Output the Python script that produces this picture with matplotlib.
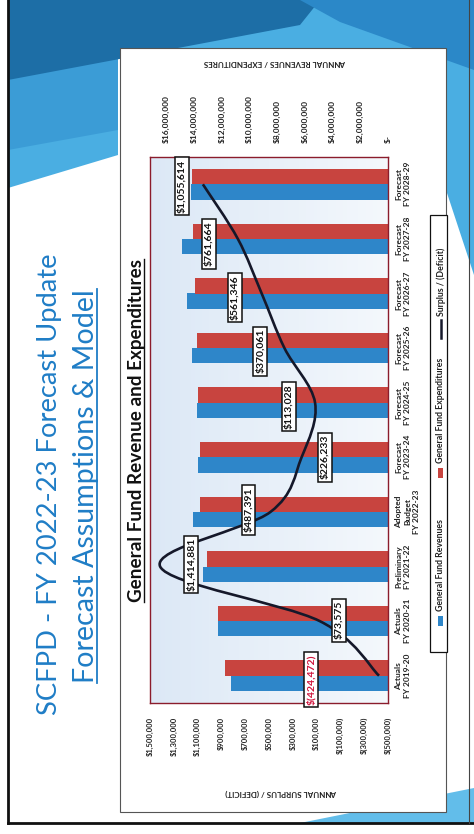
import numpy as np
import matplotlib.pyplot as plt
from matplotlib.patches import Rectangle, Polygon, PathPatch
from matplotlib.path import Path
from matplotlib.lines import Line2D
from matplotlib.colors import LinearSegmentedColormap

plt.rcParams['font.family'] = ['Lato', 'DejaVu Sans']

# data
categories = ["Actuals\nFY 2019-20", "Actuals\nFY 2020-21", "Preliminary\nFY 2021-22",
              "Adopted\nBudget\nFY 2022-23", "Forecast\nFY 2023-24", "Forecast\nFY 2024-25",
              "Forecast\nFY 2025-26", "Forecast\nFY 2026-27", "Forecast\nFY 2027-28",
              "Forecast\nFY 2028-29"]
revenues = [11.35e6, 12.3e6, 13.4e6, 14.1e6, 13.75e6, 13.8e6, 14.2e6, 14.5e6, 14.9e6, 14.25e6]
expenditures = [11.8e6, 12.3e6, 13.1e6, 13.6e6, 13.6e6, 13.7e6, 13.8e6, 13.95e6, 14.1e6, 14.2e6]
surplus = [-424472, 73575, 1414881, 487391, 226233, 113028, 370061, 561346, 761664, 1055614]
rev_ticks = np.arange(0, 16e6 + 1, 2e6)
surplus_ticks = np.arange(-500000, 1500001, 200000)

# label offsets from their points, in pixels (layout only)
label_dx = [-68, 19, 31, -22, 23, -26, -24, -27, -29, -21]
label_dy = [-4, 1, 2, 2, 0, -4, -3, -4, -5, -2]

BLUE = '#2e86c9'
RED = '#c8443f'
TITLE_BLUE = '#1f7dc6'
W, H = 474, 834


def money(v):
    if v == 0:
        return '$-'
    if v < 0:
        return f'$({abs(v):,.0f})'
    return f'${v:,.0f}'


fig = plt.figure(figsize=(W / 100, H / 100), dpi=100)

# slide background in pixel coordinates
bg = fig.add_axes([0, 0, 1, 1])
bg.set_xlim(0, W)
bg.set_ylim(H, 0)
bg.axis('off')

bg.add_patch(Polygon([(8, 0), (474, 0), (474, 275), (446, 190), (446, 48),
                      (118, 48), (118, 155), (8, 188)], closed=True, fc='#4aaee2', ec='none'))
bg.add_patch(Polygon([(8, 80), (118, 48), (118, 130), (8, 150)], closed=True,
                     fc='#3b9cd6', ec='none'))
bg.add_patch(Polygon([(8, 0), (320, 0), (300, 25), (8, 80)], closed=True, fc='#1d6ea6', ec='none'))
bg.add_patch(Polygon([(300, 0), (474, 0), (474, 70), (340, 22)], closed=True,
                     fc='#2b88c8', ec='none'))
bg.add_patch(Polygon([(300, 823), (474, 788), (474, 823)], closed=True, fc='#62bdea', ec='none'))
bg.add_patch(Rectangle((0, 823), W, H - 823, fc='white', ec='none'))
bg.add_patch(Rectangle((0, 0), 8, H, fc='white', ec='none'))
bg.add_line(Line2D([8, 8], [0, 823], color='#111111', lw=2))
bg.add_line(Line2D([8, 474], [823, 823], color='#111111', lw=2))
bg.add_line(Line2D([469, 469], [0, 823], color='#444444', lw=0.8))

# chart frame
bg.add_patch(Rectangle((120, 48), 326, 764, fc='white', ec='#555555', lw=0.8))

# plot-area gradient
grad = LinearSegmentedColormap.from_list('pa', ['#dce8f6', '#f4f8fc'])
bg.imshow(np.linspace(0, 1, 64).reshape(1, -1), cmap=grad, aspect='auto',
          extent=[150, 388, 703, 157], zorder=1)
bg.set_xlim(0, W)
bg.set_ylim(H, 0)

# main chart (rotated: bars run right-to-left)
ax = fig.add_axes([150 / W, 1 - 703 / H, 238 / W, 546 / H])
ax2 = ax.twiny()
ax.set_facecolor('none')
y = np.arange(len(categories))
ax.barh(y - 0.14, revenues, height=0.28, color=BLUE, zorder=2)
ax.barh(y + 0.14, expenditures, height=0.28, color=RED, zorder=2)
ax.set_xlim(17.2e6, 0)
ax.set_ylim(-0.5, len(categories) - 0.5)
ax.set_xticks(rev_ticks)
ax.set_xticklabels([money(v) for v in rev_ticks], rotation=90, fontsize=6, fontweight='bold',
                   color='#222222')
ax.xaxis.set_ticks_position('top')
ax.tick_params(axis='x', length=0, pad=10, labeltop=True, labelbottom=False)
ax.yaxis.tick_right()
ax.set_yticks(y)
ax.set_yticklabels(categories, rotation=90, ha='left', va='center', multialignment='center',
                   fontsize=6, fontweight='bold', color='#222222', linespacing=1.35)
ax.tick_params(axis='y', length=0, pad=5)
for s in ax.spines.values():
    s.set_color('#8b1c2c')
    s.set_linewidth(1)

# surplus line on its own axis (bottom)
ax2.set_xlim(1.5e6, -0.5e6)
ax2.set_xticks(surplus_ticks)
ax2.set_xticklabels([money(v) for v in surplus_ticks], rotation=90, fontsize=5.5,
                    fontweight='bold', color='#222222')
ax2.xaxis.set_ticks_position('bottom')
ax2.tick_params(axis='x', length=0, pad=10, labelbottom=True, labeltop=False)
for s in ax2.spines.values():
    s.set_visible(False)

pts = np.column_stack([surplus, y]).astype(float)
verts = [pts[0]]
codes = [Path.MOVETO]
n = len(pts)
for i in range(n - 1):
    p0 = pts[i - 1] if i > 0 else pts[i]
    p1, p2 = pts[i], pts[i + 1]
    p3 = pts[i + 2] if i + 2 < n else pts[i + 1]
    verts += [p1 + (p2 - p0) / 6, p2 - (p3 - p1) / 6, p2]
    codes += [Path.CURVE4] * 3
ax2.add_patch(PathPatch(Path(verts, codes), fill=False, ec='#15182a', lw=1.9, zorder=3))

for i, v in enumerate(surplus):
    ax2.annotate(money(v), xy=(v, i), xytext=(label_dx[i], label_dy[i]),
                 textcoords='offset pixels', rotation=90, ha='center', va='center',
                 fontsize=7.5, fontweight='bold',
                 color='#d0143c' if v < 0 else '#111111',
                 bbox=dict(boxstyle='square,pad=0.22', fc='white', ec='#111111', lw=1.1),
                 zorder=5)

# axis titles (upside down in the rotated slide)
bg.text(275, 62, 'ANNUAL REVENUES / EXPENDITURES', rotation=180, ha='center', va='center',
        fontsize=5.8, fontweight='bold', color='#222222')
bg.text(281, 793, 'ANNUAL SURPLUS / (DEFICIT)', rotation=180, ha='center', va='center',
        fontsize=5.8, fontweight='bold', color='#222222')

# legend drawn by hand, rotated
bg.add_patch(Rectangle((430, 215), 17, 437, fc='white', ec='#111111', lw=0.9, zorder=3))
bg.add_patch(Rectangle((438.5, 616), 5, 10, fc=BLUE, ec='none', zorder=4))
bg.text(441, 611, 'General Fund Revenues', rotation=90, ha='center', va='bottom',
        fontsize=6.3, fontweight='bold', color='#222222', zorder=4)
bg.add_patch(Rectangle((438.5, 468), 5, 10, fc=RED, ec='none', zorder=4))
bg.text(441, 463, 'General Fund Expenditures', rotation=90, ha='center', va='bottom',
        fontsize=6.3, fontweight='bold', color='#222222', zorder=4)
bg.add_line(Line2D([441, 441], [320, 338], color='#15182a', lw=1.8, zorder=4))
bg.text(441, 316, 'Surplus / (Deficit)', rotation=90, ha='center', va='bottom',
        fontsize=6.3, fontweight='bold', color='#222222', zorder=4)

# titles, scaled to their measured lengths, with underlines
renderer = fig.canvas.get_renderer()


def fit_length(t, target):
    bb = t.get_window_extent(renderer)
    t.set_fontsize(t.get_fontsize() * target / bb.height)
    return t.get_window_extent(renderer)


def underline(bb, color, lw, inset):
    bg.add_line(Line2D([bb.x1 - inset, bb.x1 - inset], [H - bb.y1, H - bb.y0],
                       color=color, lw=lw))


t1 = bg.text(50, 484, 'SCFPD - FY 2022-23 Forecast Update', rotation=90, ha='center',
             va='center', fontsize=18, color=TITLE_BLUE)
fit_length(t1, 462)
t2 = bg.text(86, 486, 'Forecast Assumptions & Model', rotation=90, ha='center', va='center',
             fontsize=18, color=TITLE_BLUE)
bb2 = fit_length(t2, 393)
underline(bb2, TITLE_BLUE, 1.3, 2)
t3 = bg.text(137, 430, 'General Fund Revenue and Expenditures', rotation=90, ha='center',
             va='center', fontsize=10, fontweight='bold', color='#111111')
bb3 = fit_length(t3, 345)
underline(bb3, '#111111', 1.0, 1)

fig.savefig('out.png', dpi=100)
